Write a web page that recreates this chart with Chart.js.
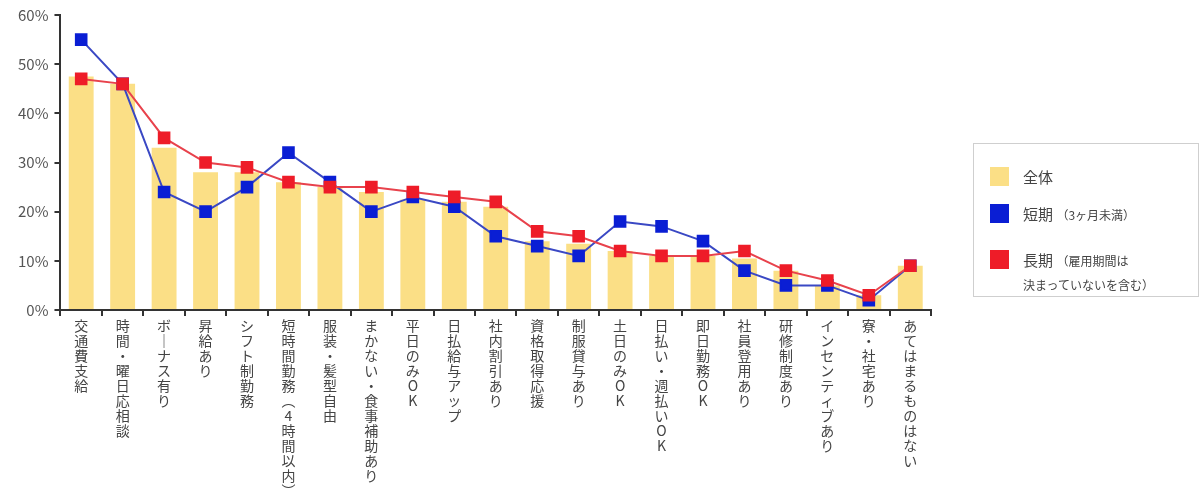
<!DOCTYPE html>
<html>
<head>
<meta charset="utf-8">
<script src="https://cdn.jsdelivr.net/npm/chart.js@4"></script>
<style>
    body { margin: 0; background: #fff; }
    #wrap { position: relative; width: 1202px; height: 500px; }
    #legend {
        position: absolute; left: 973px; top: 143px; width: 226px; height: 154px;
        border: 1px solid #cfcfcf; box-sizing: border-box;
        font-family: "Noto Sans CJK JP", sans-serif; color: #444; font-size: 15px;
    }
    .item { position: absolute; left: 16px; }
    .sw { position: absolute; left: 0; top: 2px; width: 19px; height: 19px; }
    .txt { position: absolute; left: 33px; top: 0; white-space: nowrap; line-height: 23px; }
    .small { font-size: 12px; }
</style>
</head>
<body>
<div id="wrap">
    <canvas id="chart"></canvas>
    <div id="legend">
        <div class="item" style="top:21px"><div class="sw" style="background:#fbdf86"></div><div class="txt">全体</div></div>
        <div class="item" style="top:58px"><div class="sw" style="background:#0a1ed4"></div><div class="txt">短期 <span class="small">（3ヶ月未満）</span></div></div>
        <div class="item" style="top:104px"><div class="sw" style="background:#ee1c28"></div><div class="txt">長期 <span class="small">（雇用期間は</span><br><span class="small">決まっていないを含む）</span></div></div>
    </div>
</div>
<script>
const categories = [
    "交通費支給", "時間・曜日応相談", "ボーナス有り", "昇給あり", "シフト制勤務",
    "短時間勤務（4時間以内）", "服装・髪型自由", "まかない・食事補助あり", "平日のみOK", "日払給与アップ",
    "社内割引あり", "資格取得応援", "制服貸与あり", "土日のみOK", "日払い・週払いOK",
    "即日勤務OK", "社員登用あり", "研修制度あり", "インセンティブあり", "寮・社宅あり",
    "あてはまるものはない"
];
const allValues = [47.5, 46, 33, 28, 28, 26, 25, 24, 22.5, 22, 21, 14, 13.5, 12, 11, 11, 10.5, 8, 5, 3, 9];
const shortValues = [55, 46, 24, 20, 25, 32, 26, 20, 23, 21, 15, 13, 11, 18, 17, 14, 8, 5, 5, 2, 9];
const longValues = [47, 46, 35, 30, 29, 26, 25, 25, 24, 23, 22, 16, 15, 12, 11, 11, 12, 8, 6, 3, 9];
const yTicks = [0, 10, 20, 30, 40, 50, 60];

// vertical writing: one character per line
function verticalLabel(s) {
    return Array.from(s.replace(/（/g, "︵").replace(/）/g, "︶").replace(/ー/g, "｜"));
}

const ctx = document.getElementById("chart");
new Chart(ctx, {
    type: "bar",
    data: {
        labels: categories,
        datasets: [
            {
                type: "line",
                label: "長期",
                data: longValues,
                borderColor: "#e8424c",
                backgroundColor: "#ee1c28",
                pointBackgroundColor: "#ee1c28",
                pointBorderColor: "#ee1c28",
                pointStyle: "rect",
                pointRadius: 7.5,
                borderWidth: 2,
                order: 1,
            },
            {
                type: "line",
                label: "短期",
                data: shortValues,
                borderColor: "#3a48c4",
                backgroundColor: "#0a1ed4",
                pointBackgroundColor: "#0a1ed4",
                pointBorderColor: "#0a1ed4",
                pointStyle: "rect",
                pointRadius: 7.5,
                borderWidth: 2,
                order: 2,
            },
            {
                label: "全体",
                data: allValues,
                backgroundColor: "#fbdf86",
                barPercentage: 0.6,
                categoryPercentage: 1,
                order: 3,
            },
        ],
    },
    options: {
        responsive: true,
        maintainAspectRatio: false,
        animation: false,
        layout: { padding: { left: 12, right: 271, top: 8, bottom: 0 } },
        plugins: {
            legend: { display: false },
            tooltip: { enabled: false },
        },
        scales: {
            x: {
                offset: true,
                border: { color: "#333", width: 2 },
                grid: { offset: true, drawOnChartArea: false, drawTicks: true, tickLength: 6, color: "#333", lineWidth: 2 },
                ticks: {
                    autoSkip: false,
                    maxRotation: 0,
                    minRotation: 0,
                    padding: 2,
                    color: "#444",
                    font: { family: "'Noto Sans CJK JP', sans-serif", size: 14, lineHeight: "15px" },
                    callback: function (v) {
                        return verticalLabel(this.getLabelForValue(v));
                    },
                },
            },
            y: {
                min: 0,
                max: 60,
                afterBuildTicks: (axis) => {
                    axis.ticks = yTicks.map((v) => ({ value: v }));
                },
                border: { color: "#333", width: 2 },
                grid: { drawOnChartArea: false, drawTicks: true, tickLength: 6, color: "#333", lineWidth: 2 },
                ticks: {
                    padding: 6,
                    color: "#555",
                    font: { family: "'Noto Sans CJK JP', sans-serif", size: 15 },
                    callback: (v) => v + "%",
                },
            },
        },
    },
});
</script>
</body>
</html>
